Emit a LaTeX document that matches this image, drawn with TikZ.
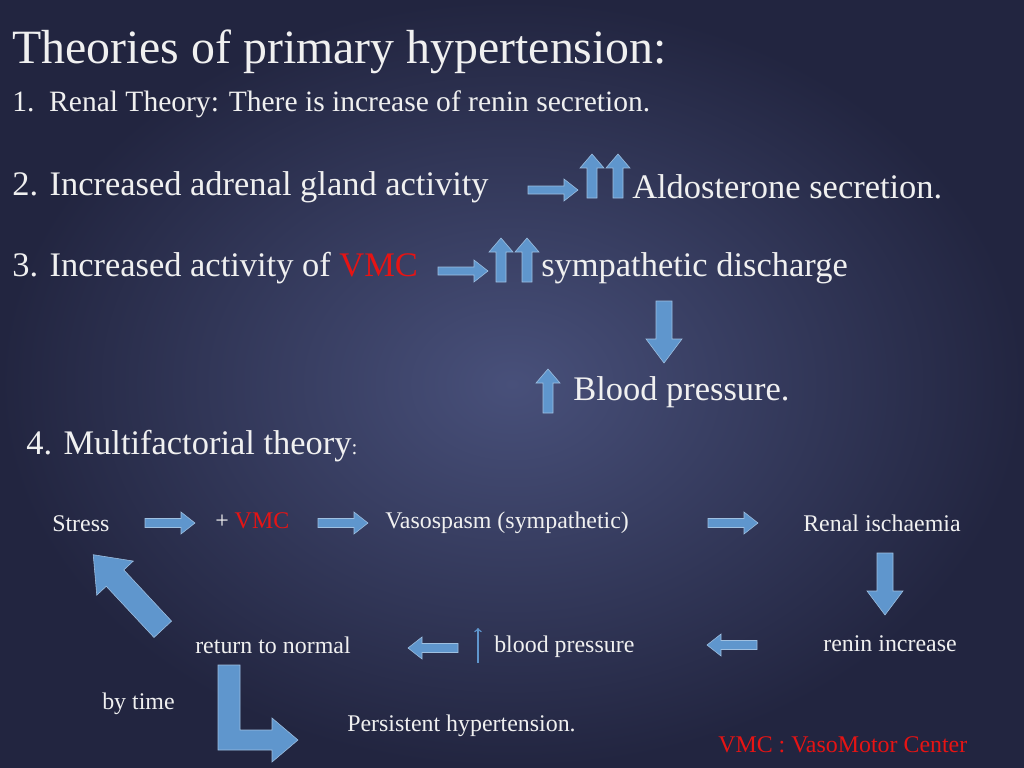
\documentclass[tikz,border=0pt]{standalone}
\usepackage{fontspec}
\setmainfont{Liberation Serif}
\usetikzlibrary{positioning}
\definecolor{bgin}{RGB}{72,80,122}
\definecolor{bgout}{RGB}{34,37,64}
\definecolor{arrowblue}{RGB}{95,150,205}
\definecolor{vmcred}{RGB}{230,20,20}
\tikzset{
    textnode/.style = {draw=none, fill=none, anchor=west, inner sep=0pt, text=white!94!black},
    bignode/.style = {textnode, font=\fontsize{24.5}{28}\selectfont},
    smallnode/.style = {textnode, font=\fontsize{17}{20}\selectfont},
    blockarrow/.style = {fill=arrowblue, draw=arrowblue!60!white, line width=0.4pt}
}
% block arrow: name, centre, angle, length, shaft width, head width, head length
\newcommand{\barrow}[7]{%
  \coordinate (#1) at #2;
  \begin{scope}[shift={#2}, rotate=#3]
    \filldraw [blockarrow] (-#4/2,-#5/2) -- (#4/2-#7,-#5/2) -- (#4/2-#7,-#6/2) -- (#4/2,0)
      -- (#4/2-#7,#6/2) -- (#4/2-#7,#5/2) -- (-#4/2,#5/2) -- cycle;
  \end{scope}}
\begin{document}
\begin{tikzpicture}[x=0.025cm, y=-0.025cm]
    % background
    \shade[inner color=bgin, outer color=bgout] (0,0) rectangle (1024,768);
    \useasboundingbox (0,0) rectangle (1024,768);

    \node [name=title, textnode, font=\fontsize{34}{38}\selectfont] at (12,52) {Theories of primary hypertension:};
    \node [name=renal, bignode, font=\fontsize{21}{24}\selectfont] at (12,104) {1.\ \ Renal Theory: There is increase of renin secretion.};

    % adrenal
    \node [name=adrenal, bignode] at (12,187) {2. Increased adrenal gland activity};
    \barrow{arA}{(553,190)}{0}{50}{8}{22}{14}
    \barrow{upA1}{(592,176)}{90}{44}{10}{24}{14}
    \barrow{upA2}{(618,176)}{90}{44}{10}{24}{14}
    \node [name=aldo, bignode] at (632,187) {Aldosterone secretion.};

    % VMC
    \node [name=vmc, bignode] at (12,268) {3. Increased activity of \textcolor{vmcred}{VMC}};
    \barrow{arB}{(463,271)}{0}{50}{8}{22}{14}
    \barrow{upB1}{(501,260)}{90}{44}{10}{24}{14}
    \barrow{upB2}{(527,260)}{90}{44}{10}{24}{14}
    \node [name=symp, bignode] at (541,268) {sympathetic discharge};
    \barrow{downC}{(664,332)}{-90}{62}{16}{36}{24}
    \barrow{upC}{(548,391)}{90}{44}{10}{24}{14}
    \node [name=bp, bignode] at (573,392) {Blood pressure.};

    % multifactorial
    \node [name=multi, bignode] at (26,446) {4. Multifactorial theory{\fontsize{15}{17}\selectfont:}};

    \node [name=stress, smallnode] at (52,524) {Stress};
    \barrow{ar1}{(170,523)}{0}{50}{9}{22}{14}
    \node [name=plusvmc, smallnode] at (215,521) {+ \textcolor{vmcred}{VMC}};
    \barrow{ar2}{(343,523)}{0}{50}{9}{22}{14}
    \node [name=vaso, smallnode] at (385,523) {Vasospasm (sympathetic)};
    \barrow{ar3}{(733,523)}{0}{50}{9}{22}{14}
    \node [name=ischaemia, smallnode] at (803,523) {Renal ischaemia};
    \barrow{ar4}{(885,584)}{-90}{62}{16}{36}{24}
    \node [name=renin, smallnode] at (823,644) {renin increase};
    \barrow{ar5}{(732,645)}{180}{50}{9}{22}{14}
    \node [name=bpsmall, smallnode] at (494,647) {blood pressure};
    \draw [name=thinup, arrowblue, line width=1pt, ->] (478,663) -- (478,628);
    \barrow{ar6}{(433,648)}{180}{50}{9}{22}{14}
    \node [name=normal, smallnode] at (195,645) {return to normal};
    \barrow{ar7}{(128,592)}{133}{102}{24}{50}{32}

    \node [name=bytime, smallnode] at (102,704) {by time};
    \filldraw [blockarrow]
        (218,665) -- (240,665) -- (240,730) -- (272,730) -- (272,718) -- (298,740)
        -- (272,762) -- (272,750) -- (218,750) -- cycle;
    \node [name=persist, smallnode] at (347,726) {Persistent hypertension.};
    \node [name=legend, textnode, text=vmcred, font=\fontsize{17}{20}\selectfont] at (718,745) {VMC : VasoMotor Center};
\end{tikzpicture}
\end{document}
